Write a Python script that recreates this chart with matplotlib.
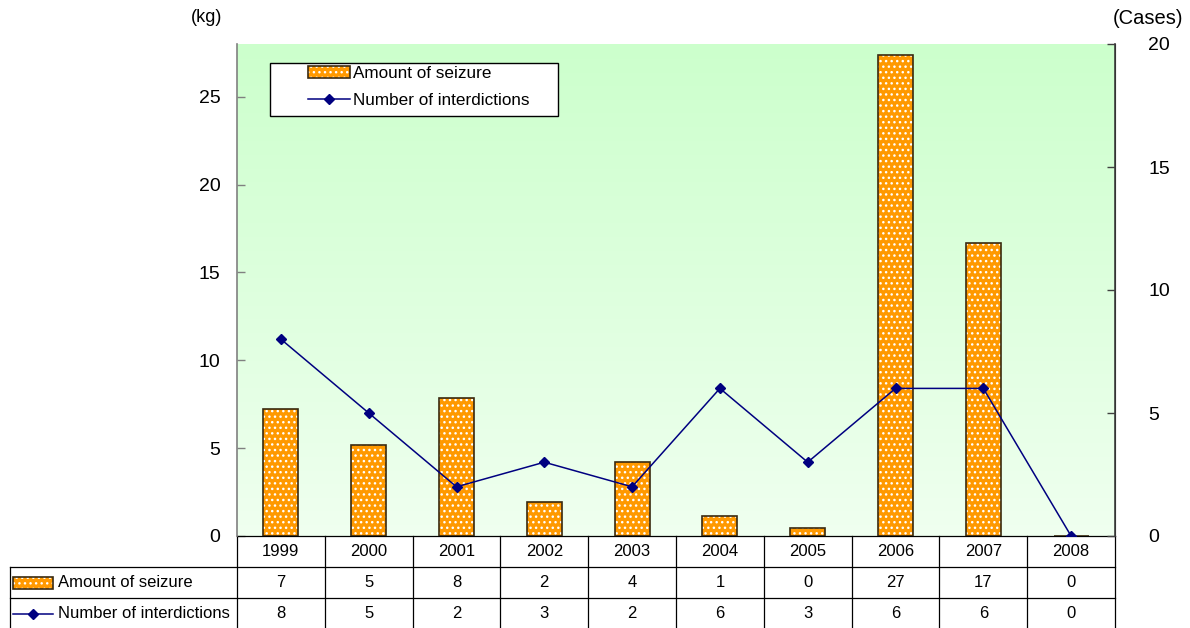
import numpy as np
import matplotlib
matplotlib.use("Agg")
import matplotlib.pyplot as plt
from matplotlib.patches import Patch, Rectangle
from matplotlib.lines import Line2D
from matplotlib.legend_handler import HandlerTuple
from matplotlib.transforms import blended_transform_factory

plt.rcParams["font.family"] = ["Liberation Sans", "DejaVu Sans"]

# Yearly seizure data
years = ["1999", "2000", "2001", "2002", "2003", "2004", "2005", "2006", "2007", "2008"]
seizure_kg = [7.2, 5.2, 7.85, 1.95, 4.2, 1.15, 0.45, 27.4, 16.7, 0.0]
interdictions = [8, 5, 2, 3, 2, 6, 3, 6, 6, 0]

bar_label = "Amount of seizure"
line_label = "Number of interdictions"

ORANGE = "#ff9900"
NAVY = "#000080"
EDGE = "#3a2a10"

fig = plt.figure(figsize=(11.9, 6.28), dpi=100)
W, H = 1190, 628
left, right, bottom, top = 237 / W, 1115 / W, 1 - 536 / H, 1 - 44 / H
ax = fig.add_axes([left, bottom, right - left, top - bottom])
ax2 = ax.twinx()
AW, AH = 1115 - 237, 536 - 44   # axes size in px

x = np.arange(len(years))

# green-to-white gradient background
grad = np.linspace(0, 1, 256).reshape(-1, 1)
top_c = np.array([0.80, 1.0, 0.80])
bot_c = np.array([0.94, 1.0, 0.94])
img = bot_c + (top_c - bot_c) * grad[::-1][:, :, None] * np.ones((1, 1, 3))
ax.imshow(img, extent=[0, 1, 0, 1], transform=ax.transAxes, aspect="auto", zorder=0)

bw = 0.4
ax.bar(x, seizure_kg, width=bw, color=ORANGE, edgecolor="white", hatch="...", linewidth=0, zorder=2)
ax.bar(x, seizure_kg, width=bw, fill=False, edgecolor=EDGE, linewidth=1.2, zorder=3)

ax2.plot(x, interdictions, color=NAVY, lw=1.1, marker="D", markersize=5.5, zorder=4)

ax.set_xlim(-0.5, len(years) - 0.5)
ax.set_ylim(0, 28)
ax.set_yticks([0, 5, 10, 15, 20, 25])
ax2.set_ylim(0, 20)
ax2.set_yticks([0, 5, 10, 15, 20])
ax.set_xticks([])

for a in (ax, ax2):
    a.tick_params(axis="y", direction="in", length=6, width=1, color="#808080", labelsize=14, pad=12)
    a.spines["top"].set_visible(False)
    a.spines["bottom"].set_visible(False)
ax.spines["left"].set_color("#808080")
ax.spines["left"].set_linewidth(1.2)
ax2.spines["left"].set_visible(False)
ax2.spines["right"].set_color("#404040")
ax2.spines["right"].set_linewidth(1.2)
ax2.tick_params(axis="y", color="#404040", pad=24)

fig.text(207 / W, 1 - 17 / H, "(kg)", ha="center", va="center", fontsize=13)
fig.text(1148 / W, 1 - 19 / H, "(Cases)", ha="center", va="center", fontsize=14.5)

# legend: frame drawn separately so the keys can sit further in
frame = Rectangle(((270 - 237) / AW, (536 - 116) / AH), 288 / AW, 53 / AH, transform=ax2.transAxes,
                  facecolor="white", edgecolor="black", lw=1.0, zorder=5)
ax2.add_patch(frame)
p_fill = Patch(facecolor=ORANGE, edgecolor="white", hatch="...", linewidth=0)
p_edge = Patch(fill=False, edgecolor=EDGE, linewidth=1.2)
ln = Line2D([], [], color=NAVY, lw=1.1, marker="D", markersize=5.5)
leg = ax2.legend([(p_fill, p_edge), ln], [bar_label, line_label],
                 handler_map={tuple: HandlerTuple(ndivide=1)},
                 loc="center left", bbox_to_anchor=((308 - 237) / AW, (536 - 87) / AH), fontsize=12.3,
                 frameon=False, borderpad=0, handlelength=2.45, handletextpad=0.2, labelspacing=0.75,
                 borderaxespad=0)
leg.set_zorder(6)

# data table under the plot
tr = blended_transform_factory(ax.transData, ax.transAxes)
row_h = 31 / AH
x0_ax = (10 - 237) / AW
lw_t = 0.9
fs_t = 12

# horizontal lines
ax.plot([-0.5, len(years) - 0.5], [0, 0], transform=tr, color="black", lw=lw_t, clip_on=False)
for r in (1, 2):
    ax.plot([x0_ax, 1], [-r * row_h, -r * row_h], transform=ax.transAxes,
            color="black", lw=lw_t, clip_on=False)
# vertical lines
for i in range(len(years) + 1):
    ax.plot([i - 0.5, i - 0.5], [0, -3 * row_h], transform=tr, color="black", lw=lw_t, clip_on=False)
ax.plot([x0_ax, x0_ax], [-row_h, -3 * row_h], transform=ax.transAxes, color="black", lw=lw_t, clip_on=False)

for i, yr in enumerate(years):
    ax.text(i, -0.5 * row_h, yr, transform=tr, ha="center", va="center", fontsize=fs_t, clip_on=False)
    ax.text(i, -1.5 * row_h, f"{seizure_kg[i]:.0f}", transform=tr, ha="center", va="center", fontsize=fs_t)
    ax.text(i, -2.5 * row_h, f"{interdictions[i]:d}", transform=tr, ha="center", va="center", fontsize=fs_t)

# row headers with legend keys
kx0 = (13 - 237) / AW
kx1 = (53 - 237) / AW
ty = (58 - 237) / AW
ax.add_patch(Rectangle((kx0, -1.5 * row_h - 6 / AH), kx1 - kx0, 12 / AH, transform=ax.transAxes,
                       facecolor=ORANGE, edgecolor="white", hatch="...", lw=0, clip_on=False))
ax.add_patch(Rectangle((kx0, -1.5 * row_h - 6 / AH), kx1 - kx0, 12 / AH, transform=ax.transAxes,
                       fill=False, edgecolor=EDGE, lw=1.2, clip_on=False))
ax.text(ty, -1.5 * row_h, bar_label, transform=ax.transAxes, ha="left", va="center", fontsize=fs_t)
ax.plot([kx0, kx1], [-2.5 * row_h, -2.5 * row_h], transform=ax.transAxes, color=NAVY, lw=1.1, clip_on=False)
ax.plot([(kx0 + kx1) / 2], [-2.5 * row_h], transform=ax.transAxes, color=NAVY, marker="D",
        markersize=5.5, clip_on=False)
ax.text(ty, -2.5 * row_h, line_label, transform=ax.transAxes, ha="left", va="center", fontsize=fs_t)

fig.savefig("out.png", dpi=100)
